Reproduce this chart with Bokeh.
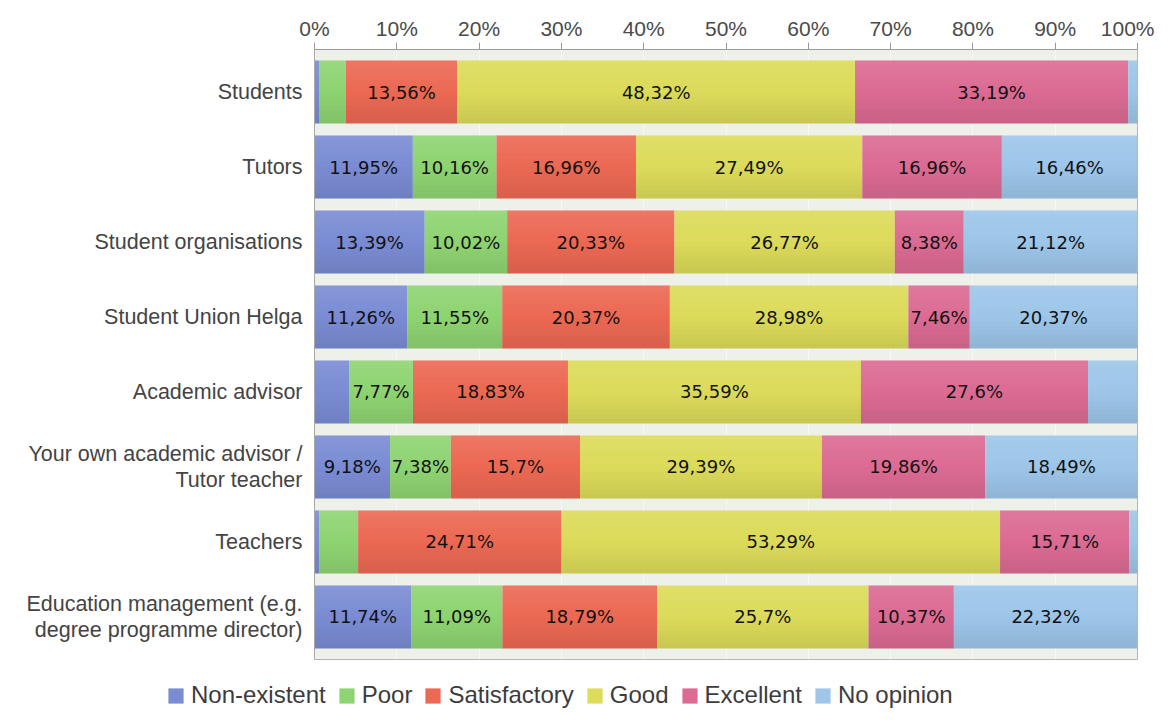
from bokeh.plotting import figure
from bokeh.layouts import column
from bokeh.models import (Range1d, FixedTicker, Legend, LegendItem, ColumnDataSource)
from bokeh.core.properties import value
from bokeh.embed import file_html
from bokeh.resources import INLINE

categories = ["Students", "Tutors", "Student organisations", "Student Union Helga",
              "Academic advisor", "Your own academic advisor /\nTutor teacher", "Teachers",
              "Education management (e.g.\ndegree programme director)"]
series_names = ["Non-existent", "Poor", "Satisfactory", "Good", "Excellent", "No opinion"]
non_existent = [0.55, 11.95, 13.39, 11.26, 4.2, 9.18, 0.6, 11.74]
poor = [3.25, 10.16, 10.02, 11.55, 7.77, 7.38, 4.7, 11.09]
satisfactory = [13.56, 16.96, 20.33, 20.37, 18.83, 15.7, 24.71, 18.79]
good = [48.32, 27.49, 26.77, 28.98, 35.59, 29.39, 53.29, 25.7]
excellent = [33.19, 16.96, 8.38, 7.46, 27.6, 19.86, 15.71, 10.37]
no_opinion = [1.13, 16.46, 21.12, 20.37, 6.01, 18.49, 0.99, 22.32]
colors = ["#7a8cd4", "#8fd472", "#ec6953", "#dcdb5a", "#dc6b93", "#9dc6e9"]
tick_values = [0, 10, 20, 30, 40, 50, 60, 70, 80, 90, 100]
tick_labels = ["0%", "10%", "20%", "30%", "40%", "50%", "60%", "70%", "80%", "90%", "100%"]

series = [non_existent, poor, satisfactory, good, excellent, no_opinion]
n = len(categories)
ypos = list(range(n))

W = 1154
p = figure(width=W, height=668, output_backend="svg", toolbar_location=None,
           x_range=Range1d(0, 100), y_range=Range1d(n - 1 + 0.567, -0.567),
           x_axis_location="above", min_border_left=314, min_border_right=17,
           min_border_top=49, min_border_bottom=9)
p.background_fill_color = "#eef0ea"
p.border_fill_color = "white"
p.outline_line_color = "#b4b4b4"

bar_h = 0.84
data = {"y": ypos}
for name, vals in zip(series_names, series):
    data[name] = vals
src = ColumnDataSource(data)
p.hbar_stack(series_names, y="y", height=bar_h, color=colors, line_color=None, source=src)

# subtle vertical shading on bars
totals = [sum(v[i] for v in series) for i in range(n)]
nstrips = 14
for k in range(nstrips):
    f = (k + 0.5) / nstrips
    off = -bar_h / 2 + f * bar_h
    if f < 0.5:
        col, a = "white", 0.10 * (0.5 - f) * 2
    else:
        col, a = "black", 0.09 * (f - 0.5) * 2
    p.hbar(y=[y + off for y in ypos], left=0, right=totals, height=bar_h / nstrips + 0.002,
           fill_color=col, fill_alpha=a, line_color=None)

# labels
lx, ly, lt = [], [], []
for i in range(n):
    cum = 0.0
    for vals in series:
        v = vals[i]
        if v >= 7:
            lx.append(cum + v / 2)
            ly.append(ypos[i])
            lt.append(("%g" % v).replace(".", ",") + "%")
        cum += v
p.text(x=lx, y=ly, text=lt, text_align="center", text_baseline="middle",
       text_font=value("DejaVu Sans"), text_font_size="18px", text_color="#111111")

# axes
xa = p.xaxis[0]
xa.ticker = FixedTicker(ticks=tick_values)
xa.major_label_overrides = {t: l for t, l in zip(tick_values, tick_labels)}
xa.axis_line_color = "#9a9a9a"
xa.major_tick_line_color = "#9a9a9a"
xa.major_tick_out = 7
xa.major_tick_in = 0
xa.minor_tick_line_color = None
xa.major_label_text_font = "Liberation Sans"
xa.major_label_text_font_size = "21px"
xa.major_label_text_color = "#4a4a4a"
xa.major_label_standoff = 3

ya = p.yaxis[0]
ya.ticker = FixedTicker(ticks=ypos)
ya.major_label_overrides = {i: c for i, c in zip(ypos, categories)}
ya.axis_line_color = "#a8a8a8"
ya.major_tick_line_color = None
ya.minor_tick_line_color = None
ya.major_label_text_font = "Liberation Sans"
ya.major_label_text_font_size = "21.5px"
ya.major_label_text_line_height = 1.1
ya.major_label_text_color = "#444444"
ya.major_label_standoff = 6

p.xgrid.grid_line_color = "#f7f8f5"
p.xgrid.grid_line_width = 1
p.ygrid.grid_line_color = None

# legend strip below the chart
lg = figure(width=W, height=41, output_backend="svg", toolbar_location=None,
            x_range=Range1d(0, 1), y_range=Range1d(0, 1), min_border=0)
lg.frame_align = False
lg.axis.visible = False
lg.grid.visible = False
lg.outline_line_color = None
items = []
for nm, c in zip(series_names, colors):
    r = lg.hbar(y=[-5], left=[0], right=[1], height=1, fill_color=c, line_color=None)
    items.append(LegendItem(label=nm, renderers=[r]))
legend = Legend(items=items, orientation="horizontal", location=(166, 0))
legend.label_text_font = "Liberation Sans"
legend.label_text_font_size = "24px"
legend.label_text_color = "#3c3c3c"
legend.glyph_width = 19
legend.glyph_height = 19
legend.label_standoff = 6
legend.spacing = 11
legend.padding = 0
legend.margin = 0
legend.border_line_color = None
legend.background_fill_alpha = 0
lg.add_layout(legend, "center")

open("out.html", "w").write(file_html(column(p, lg, spacing=0), INLINE))
